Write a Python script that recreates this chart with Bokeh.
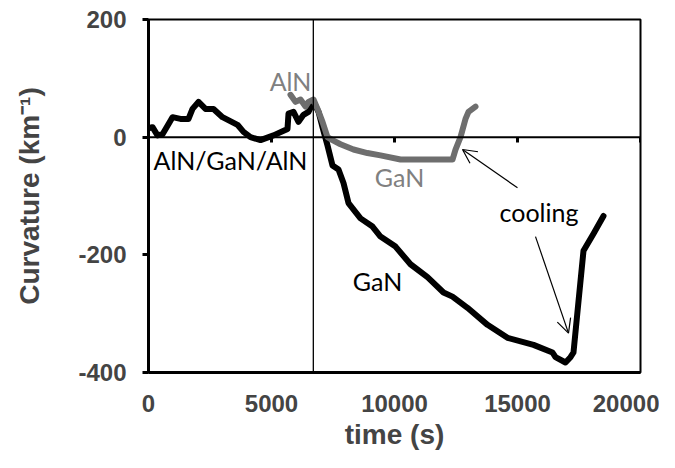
from bokeh.plotting import figure
from bokeh.models import Span, Label, Arrow, OpenHead, Range1d, FixedTicker
from bokeh.embed import file_html
from bokeh.resources import INLINE

# ---- data ----
full_time = [0, 163, 366, 570, 780, 976, 1300, 1626, 1789, 2033, 2317, 2642, 3008,
             3618, 3862, 4146, 4553, 5081, 5650, 5691, 5894, 6098, 6300, 6504, 6707,
             6911, 7073, 7276, 7480, 7724, 7927, 8130, 8618, 9106, 9431, 10041, 10650,
             11341, 11992, 12358, 12967, 13780, 14593, 15650, 16423, 16545, 16951,
             17154, 17276, 17480, 17683, 18089, 18496]
full_curv = [15, 17, 3, 5, 20, 34, 31, 31, 48, 60, 48, 48, 34,
             21, 9, 0, -5, 3, 14, 40, 43, 26, 38, 43, 60,
             43, 17, -14, -48, -55, -78, -112, -138, -152, -169, -186, -216,
             -238, -264, -271, -290, -319, -341, -353, -366, -374, -383,
             -374, -366, -279, -193, -164, -134]

gan_time = [5772, 5976, 6179, 6382, 6504, 6707, 6870, 7073, 7276, 7480, 7805, 8333,
            8900, 9431, 10244, 11057, 11870, 12358, 12480, 12683, 12886, 13008, 13293]
gan_curv = [72, 60, 64, 52, 60, 64, 48, 26, 0, -5, -12, -21,
            -27, -31, -38, -38, -38, -38, -21, 0, 31, 43, 52]

x_ticks = [0, 5000, 10000, 15000, 20000]
y_ticks = [-400, -200, 0, 200]
y_tick_labels = ["-400", "-200", "0", "200"]
switch_time = 6700

# annotations (text, x, y, colour)
labels_text = ["AlN", "AlN/GaN/AlN", "GaN", "GaN", "cooling"]
labels_x = [5772, 3333, 10203, 9309, 15874]
labels_y = [95, -38, -68, -244, -128]
labels_col = ["#808080", "black", "#808080", "black", "black"]

arrow_tail_x = [15000, 15732]
arrow_tail_y = [-86, -169]
arrow_head_x = [12764, 17073]
arrow_head_y = [-21, -333]

p = figure(width=659, height=452, output_backend="svg", toolbar_location=None,
           x_range=Range1d(0, 20000), y_range=Range1d(-400, 200),
           min_border_left=148, min_border_right=19, min_border_top=19,
           min_border_bottom=76)

p.xgrid.visible = False
p.ygrid.visible = False
p.outline_line_color = "black"
p.outline_line_width = 2
p.background_fill_color = "white"
p.border_fill_color = "white"

AX_FONT = "Arial"

# x axis (labels low, ticks drawn on the zero line)
xa = p.xaxis[0]
xa.ticker = FixedTicker(ticks=x_ticks)
xa.major_tick_out = 0
xa.major_tick_in = 0
xa.minor_tick_out = 0
xa.minor_tick_in = 0
xa.axis_line_width = 3
xa.major_label_text_font = AX_FONT
xa.major_label_text_font_style = "bold"
xa.major_label_text_font_size = "24px"
xa.major_label_standoff = 22
xa.axis_label = "time (s)"
xa.axis_label_text_font = AX_FONT
xa.axis_label_text_font_style = "bold"
xa.axis_label_text_font_size = "28px"
xa.axis_label_standoff = 4

ya = p.yaxis[0]
ya.ticker = FixedTicker(ticks=y_ticks)
ya.major_label_overrides = {t: s for t, s in zip(y_ticks, y_tick_labels)}
ya.major_tick_out = 6
ya.major_tick_in = 0
ya.minor_tick_out = 0
ya.minor_tick_in = 0
ya.major_tick_line_width = 3
ya.axis_line_width = 3
ya.major_label_text_font = AX_FONT
ya.major_label_text_font_style = "bold"
ya.major_label_text_font_size = "24px"
ya.major_label_standoff = 16
ya.axis_label = "Curvature (km\u207b\u00b9)"
ya.axis_label_text_font = AX_FONT
ya.axis_label_text_font_style = "bold"
ya.axis_label_text_font_size = "28px"
ya.axis_label_standoff = 30

# zero line and its tick marks
p.add_layout(Span(location=0, dimension="width", line_color="black", line_width=2))
p.segment(x0=x_ticks, y0=[0] * len(x_ticks), x1=x_ticks, y1=[-9] * len(x_ticks),
          line_color="black", line_width=3)

# growth switch line
p.add_layout(Span(location=switch_time, dimension="height", line_color="black", line_width=1.3))

p.line(full_time, full_curv, line_color="black", line_width=6,
       line_join="round", line_cap="round")
p.line(gan_time, gan_curv, line_color="#6e6e6e", line_width=6,
       line_join="round", line_cap="round")

for t, x, y, c in zip(labels_text, labels_x, labels_y, labels_col):
    p.add_layout(Label(x=x, y=y, text=t, text_color=c, text_font="Lato",
                       text_font_size="25px", text_align="center",
                       text_baseline="middle"))

for x0, y0, x1, y1 in zip(arrow_tail_x, arrow_tail_y, arrow_head_x, arrow_head_y):
    p.add_layout(Arrow(x_start=x0, y_start=y0, x_end=x1, y_end=y1,
                       line_color="black", line_width=1.2,
                       end=OpenHead(size=14, line_width=1.2, line_color="black")))

open("out.html", "w").write(file_html(p, INLINE))
